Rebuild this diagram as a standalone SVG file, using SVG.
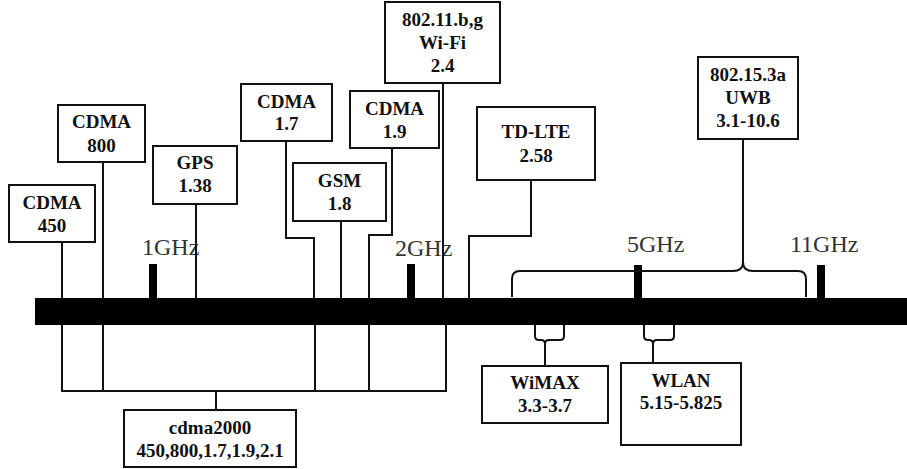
<svg xmlns="http://www.w3.org/2000/svg" width="907" height="469" viewBox="0 0 907 469">
<style>
.box{fill:#fff;stroke:#111;stroke-width:2}
.t{font-family:"Liberation Serif","Times New Roman",serif;font-weight:bold;font-size:19px;fill:#111;text-anchor:middle}
.g{font-family:"Liberation Serif","Times New Roman",serif;font-size:24px;fill:#333}
.c{fill:none;stroke:#111;stroke-width:2}
</style>
<rect width="907" height="469" fill="#fff"/>
<g id="axis">
<rect x="35" y="298" width="872" height="27" fill="#000"/>
<rect x="149" y="264" width="8" height="34" fill="#000"/>
<rect x="407" y="264" width="8" height="34" fill="#000"/>
<rect x="634" y="265" width="8" height="33" fill="#000"/>
<rect x="817" y="265" width="8" height="33" fill="#000"/>
<text class="g" x="142" y="255">1GHz</text>
<text class="g" x="395" y="256">2GHz</text>
<text class="g" x="627" y="252">5GHz</text>
<text class="g" x="790" y="252">11GHz</text>
</g>
<g id="connectors">
<path class="c" d="M62,242V298"/>
<path class="c" d="M103,162V298"/>
<path class="c" d="M196,204V298"/>
<path class="c" d="M286,141V238H314V298"/>
<path class="c" d="M341,221V298"/>
<path class="c" d="M392,148V235H369V298"/>
<path class="c" d="M443,83V298"/>
<path class="c" d="M531,180V236H469V298"/>
<path class="c" d="M743,139V262"/>
<path class="c" d="M512,297V279Q512,271 520,271H733Q743,271 743,262Q743,271 753,271H798Q806,271 806,279V297"/>
<path class="c" d="M62,325V391M103,325V391M315,325V391M369,325V391M446,325V391M61,391H447M216,391V410"/>
<path class="c" d="M535,325V336Q535,340 539,340H541Q545,340 545,344Q545,340 549,340H560Q564,340 564,336V325M545,344V366"/>
<path class="c" d="M644,325V336Q644,340 648,340H649Q653,340 653,344Q653,340 657,340H670Q674,340 674,336V325M653,344V363"/>
</g>
<g id="cdma450"><rect class="box" x="9" y="185" width="86" height="57"/><text class="t" x="52" y="209">CDMA</text><text class="t" x="52" y="232">450</text></g>
<g id="cdma800"><rect class="box" x="58" y="105" width="87" height="57"/><text class="t" x="101.5" y="128">CDMA</text><text class="t" x="101.5" y="152">800</text></g>
<g id="gps"><rect class="box" x="153" y="146" width="84" height="58"/><text class="t" x="195" y="169">GPS</text><text class="t" x="195" y="192">1.38</text></g>
<g id="cdma17"><rect class="box" x="241" y="84" width="91" height="57"/><text class="t" x="286.5" y="108">CDMA</text><text class="t" x="286.5" y="130">1.7</text></g>
<g id="gsm"><rect class="box" x="293" y="163" width="93" height="58"/><text class="t" x="339.5" y="187">GSM</text><text class="t" x="339.5" y="210">1.8</text></g>
<g id="cdma19"><rect class="box" x="350" y="91" width="89" height="57"/><text class="t" x="394.5" y="115">CDMA</text><text class="t" x="394.5" y="138">1.9</text></g>
<g id="wifi"><rect class="box" x="385" y="2" width="115" height="81"/><text class="t" x="442.5" y="26">802.11.b,g</text><text class="t" x="442.5" y="49">Wi-Fi</text><text class="t" x="442.5" y="72">2.4</text></g>
<g id="tdlte"><rect class="box" x="477" y="107" width="118" height="73"/><text class="t" x="536" y="138">TD-LTE</text><text class="t" x="536" y="162">2.58</text></g>
<g id="uwb"><rect class="box" x="698" y="57" width="100" height="82"/><text class="t" x="748" y="81">802.15.3a</text><text class="t" x="748" y="104">UWB</text><text class="t" x="748" y="127">3.1-10.6</text></g>
<g id="cdma2000"><rect class="box" x="124" y="410" width="172" height="57"/><text class="t" x="210" y="434">cdma2000</text><text class="t" x="210" y="457">450,800,1.7,1.9,2.1</text></g>
<g id="wimax"><rect class="box" x="482" y="366" width="126" height="57"/><text class="t" x="545" y="389">WiMAX</text><text class="t" x="545" y="412">3.3-3.7</text></g>
<g id="wlan"><rect class="box" x="621" y="363" width="120" height="82"/><text class="t" x="681" y="387">WLAN</text><text class="t" x="681" y="409">5.15-5.825</text></g>
</svg>
